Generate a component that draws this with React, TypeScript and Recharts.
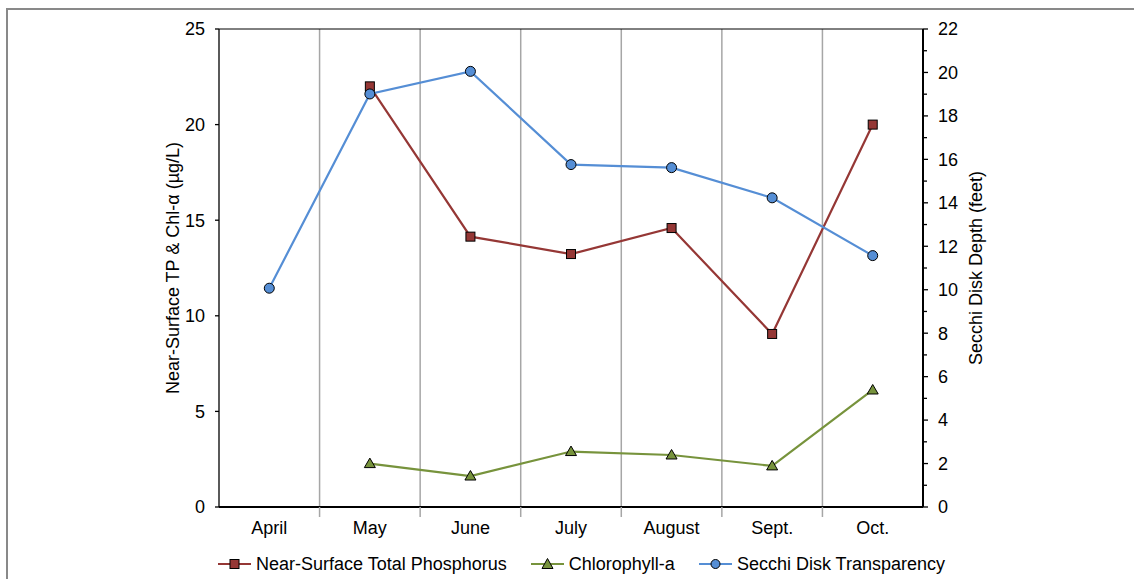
import React from 'react';
import { LineChart, Line, XAxis, YAxis, ReferenceLine } from 'recharts';

const months = ['April', 'May', 'June', 'July', 'August', 'Sept.', 'Oct.'];
const totalPhosphorus: (number | null)[] = [null, 22.0, 14.14, 13.23, 14.59, 9.05, 20.0];
const chlorophyll: (number | null)[] = [null, 2.27, 1.62, 2.9, 2.72, 2.15, 6.12];
const secchi: (number | null)[] = [10.07, 19.01, 20.05, 15.76, 15.62, 14.23, 11.57];
const leftTicks = [0, 5, 10, 15, 20, 25];
const rightTicks = [0, 1, 2, 3, 4, 5, 6, 7, 8, 9, 10, 11, 12, 13, 14, 15, 16, 17, 18, 19, 20, 21, 22];

const seriesNames = ['Near-Surface Total Phosphorus', 'Chlorophyll-a', 'Secchi Disk Transparency'];
const leftTitle = 'Near-Surface TP & Chl-α (µg/L)';
const rightTitle = 'Secchi Disk Depth (feet)';

const TP_COLOR = '#953735';
const CHL_COLOR = '#77933C';
const SECCHI_COLOR = '#558ED5';
const GRID_COLOR = '#A6A6A6';
const FONT = '"Liberation Sans", Arial, sans-serif';
const FS = 18;

const data = months.map((m, i) => ({
  x: i,
  month: m,
  tp: totalPhosphorus[i],
  chl: chlorophyll[i],
  secchi: secchi[i],
}));

const boundaries = months.slice(0, -1).map((_, i) => i + 0.5);
const xTicks = [...months.map((_, i) => i), ...boundaries].sort((a, b) => a - b);

const SquareDot = (props: any) => {
  const { cx, cy } = props;
  if (cx == null || cy == null || props.value == null) return null;
  return <rect x={cx - 4.5} y={cy - 4.5} width={9} height={9} fill={TP_COLOR} stroke="#000" strokeWidth={1} />;
};
const TriangleDot = (props: any) => {
  const { cx, cy } = props;
  if (cx == null || cy == null || props.value == null) return null;
  return (
    <polygon
      points={`${cx},${cy - 5.5} ${cx + 5.5},${cy + 4} ${cx - 5.5},${cy + 4}`}
      fill={CHL_COLOR}
      stroke="#000"
      strokeWidth={1}
    />
  );
};
const CircleDot = (props: any) => {
  const { cx, cy } = props;
  if (cx == null || cy == null || props.value == null) return null;
  return <circle cx={cx} cy={cy} r={5} fill={SECCHI_COLOR} stroke="#000" strokeWidth={1} />;
};

const XTick = (props: any) => {
  const { x, y, payload } = props;
  const v = payload.value;
  if (Number.isInteger(v)) {
    return (
      <text x={x} y={y + 27} textAnchor="middle" fontSize={FS} fontFamily={FONT} fill="#000">
        {months[v]}
      </text>
    );
  }
  return <line x1={x} x2={x} y1={y} y2={y + 10} stroke={GRID_COLOR} strokeWidth={1.5} />;
};

const RightTick = (props: any) => {
  const { x, y, payload } = props;
  const v = payload.value;
  const major = v % 2 === 0;
  return (
    <g>
      <line x1={x} x2={x + (major ? 5 : 4)} y1={y} y2={y} stroke="#000" strokeWidth={1.3} />
      {major && (
        <text x={x + 15} y={y} dy="0.355em" textAnchor="start" fontSize={FS} fontFamily={FONT} fill="#000">
          {v}
        </text>
      )}
    </g>
  );
};

const LeftTick = (props: any) => {
  const { x, y, payload } = props;
  return (
    <g>
      <line x1={x - 4} x2={x} y1={y} y2={y} stroke="#000" strokeWidth={1.3} />
      <text x={x - 14} y={y} dy="0.355em" textAnchor="end" fontSize={FS} fontFamily={FONT} fill="#000">
        {payload.value}
      </text>
    </g>
  );
};

const LegendIcon = ({ color, kind }: { color: string; kind: string }) => (
  <svg width={33} height={14} style={{ display: 'block' }}>
    <line x1={0} x2={33} y1={7} y2={7} stroke={color} strokeWidth={2} />
    {kind === 'square' && <rect x={12} y={2.5} width={9} height={9} fill={color} stroke="#000" strokeWidth={1} />}
    {kind === 'triangle' && <polygon points="16.5,1.5 22,11.5 11,11.5" fill={color} stroke="#000" strokeWidth={1} />}
    {kind === 'circle' && <circle cx={16.5} cy={7} r={4.5} fill={color} stroke="#000" strokeWidth={1} />}
  </svg>
);

const legendItems = [
  { name: seriesNames[0], color: TP_COLOR, kind: 'square' },
  { name: seriesNames[1], color: CHL_COLOR, kind: 'triangle' },
  { name: seriesNames[2], color: SECCHI_COLOR, kind: 'circle' },
];

const axisTitle = (text: string, dxFromAxis: number) => (p: any) => {
  const vb = p.viewBox || { x: 0, y: 29, width: 60, height: 478 };
  const cx = vb.x + dxFromAxis;
  const cy = vb.y + vb.height / 2;
  return (
    <text
      x={cx}
      y={cy}
      transform={`rotate(-90 ${cx} ${cy})`}
      textAnchor="middle"
      dominantBaseline="central"
      fontSize={FS}
      fontFamily={FONT}
      fill="#000"
    >
      {text}
    </text>
  );
};

export default function App() {
  return (
    <div style={{ position: 'relative', width: 1134, height: 579, overflow: 'hidden', background: '#fff' }}>
      <style>{`body{margin:0;}`}</style>
      <div
        style={{
          position: 'absolute',
          left: 6,
          top: 8,
          width: 1128,
          height: 571,
          borderTop: '2px solid #898989',
          borderLeft: '2px solid #898989',
          boxSizing: 'border-box',
        }}
      />
      <div style={{ position: 'absolute', left: 0, top: 0 }}>
        <LineChart width={1134} height={579} data={data} margin={{ top: 29, right: 151, left: 159, bottom: 32 }}>
          <XAxis
            dataKey="x"
            type="number"
            domain={[-0.5, 6.5]}
            ticks={xTicks}
            interval={0}
            height={40}
            tickSize={0}
            tickMargin={0}
            tick={<XTick />}
            tickLine={false}
            axisLine={{ stroke: '#000', strokeWidth: 2 }}
            allowDecimals
          />
          <YAxis
            yAxisId="left"
            orientation="left"
            domain={[0, 25]}
            ticks={leftTicks}
            interval={0}
            width={60}
            tickSize={0}
            tickMargin={0}
            tick={<LeftTick />}
            tickLine={false}
            axisLine={{ stroke: '#000', strokeWidth: 1.3 }}
            label={{ content: axisTitle(leftTitle, 14) }}
          />
          <YAxis
            yAxisId="right"
            orientation="right"
            domain={[0, 22]}
            ticks={rightTicks}
            interval={0}
            width={60}
            tickSize={0}
            tickMargin={0}
            tick={<RightTick />}
            tickLine={false}
            axisLine={{ stroke: '#000', strokeWidth: 2 }}
            label={{ content: axisTitle(rightTitle, 53) }}
          />
          {boundaries.map((b) => (
            <ReferenceLine key={b} x={b} yAxisId="left" stroke={GRID_COLOR} strokeWidth={1.5} />
          ))}
          <ReferenceLine y={25} yAxisId="left" stroke="#000" strokeWidth={1} />
          <Line
            yAxisId="left"
            type="linear"
            dataKey="tp"
            stroke={TP_COLOR}
            strokeWidth={2.2}
            dot={<SquareDot />}
            activeDot={false}
            isAnimationActive={false}
          />
          <Line
            yAxisId="left"
            type="linear"
            dataKey="chl"
            stroke={CHL_COLOR}
            strokeWidth={2.2}
            dot={<TriangleDot />}
            activeDot={false}
            isAnimationActive={false}
          />
          <Line
            yAxisId="right"
            type="linear"
            dataKey="secchi"
            stroke={SECCHI_COLOR}
            strokeWidth={2.2}
            dot={<CircleDot />}
            activeDot={false}
            isAnimationActive={false}
          />
        </LineChart>
      </div>
      <div
        style={{
          position: 'absolute',
          left: 218,
          top: 554,
          height: 20,
          display: 'flex',
          alignItems: 'center',
          fontFamily: FONT,
          fontSize: FS,
          color: '#000',
          whiteSpace: 'nowrap',
        }}
      >
        {legendItems.map((it, i) => (
          <div key={it.name} style={{ display: 'flex', alignItems: 'center', marginRight: i < 2 ? 24 : 0 }}>
            <LegendIcon color={it.color} kind={it.kind} />
            <span style={{ marginLeft: 5, lineHeight: '20px' }}>{it.name}</span>
          </div>
        ))}
      </div>
    </div>
  );
}
